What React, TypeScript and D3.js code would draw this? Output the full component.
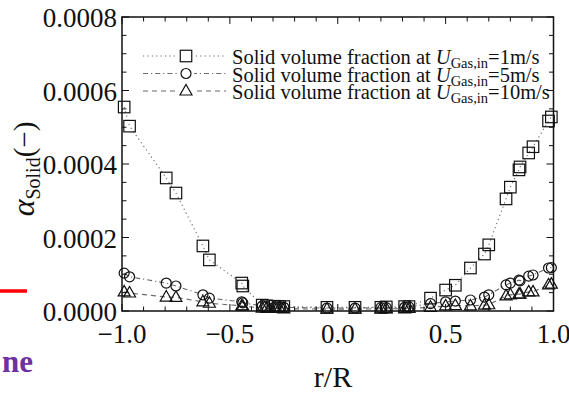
import React from "react";
import * as d3 from "d3";

const rPos = [-0.99, -0.965, -0.795, -0.75, -0.625, -0.595, -0.445, -0.44, -0.35, -0.33, -0.29, -0.27, -0.25, -0.05, 0.08, 0.2, 0.225, 0.31, 0.33, 0.43, 0.5, 0.545, 0.615, 0.68, 0.7, 0.78, 0.8, 0.84, 0.845, 0.885, 0.905, 0.977, 0.99];

const solid1 = [0.000555, 0.000503, 0.000362, 0.000321, 0.000177, 0.000139, 0.000076, 0.000068, 0.000016, 0.000014, 0.000013, 0.000012, 0.000012, 0.00001, 0.00001, 0.00001, 0.000011, 0.000012, 0.000012, 0.000035, 0.000057, 0.00007, 0.000117, 0.000155, 0.00018, 0.000305, 0.000337, 0.000384, 0.000392, 0.00043, 0.000447, 0.000517, 0.000528];

const solid5 = [0.000103, 0.000093, 0.000076, 0.000068, 0.000044, 0.000035, 0.000025, 0.000022, 0.000014, 0.000012, 0.000011, 0.00001, 0.00001, 0.000008, 0.000008, 0.000009, 0.000009, 0.00001, 0.000011, 0.00002, 0.000025, 0.000027, 0.00003, 0.000038, 0.000044, 0.000071, 0.000076, 0.000084, 0.000082, 0.000095, 0.000098, 0.000117, 0.000118];

const solid10 = [0.000052, 0.000049, 0.000038, 0.000037, 0.000025, 0.000021, 0.000014, 0.000013, 0.000008, 0.000007, 0.000007, 0.000007, 0.000006, 0.000005, 0.000005, 0.000006, 0.000006, 0.000006, 0.000007, 0.00001, 0.000014, 0.000015, 0.000014, 0.000016, 0.000017, 0.000041, 0.000044, 0.000046, 0.000046, 0.000052, 0.000052, 0.000071, 0.000073];

const xTickLabels = ["−1.0", "−0.5", "0.0", "0.5", "1.0"];
const xTickValues = [-1, -0.5, 0, 0.5, 1];
const yTickValues = [0, 0.0002, 0.0004, 0.0006, 0.0008];
const yTickLabels = ["0.0000", "0.0002", "0.0004", "0.0006", "0.0008"];
const legendSpeeds = ["1m/s", "5m/s", "10m/s"];

const FONT = "'Liberation Serif', 'DejaVu Serif', serif";
const LINE_COLOR = "#6a6a6a";

const x = d3.scaleLinear().domain([-1, 1]).range([122, 553.5]);
const y = d3.scaleLinear().domain([0, 0.0008]).range([311, 17]);

type Kind = "square" | "circle" | "triangle";

function Marker({ kind, cx, cy }: { kind: Kind; cx: number; cy: number }) {
  const common = { fill: "none", stroke: "#111", strokeWidth: 1.2 };
  if (kind === "square") {
    const s = 11.5;
    return <rect x={cx - s / 2} y={cy - s / 2} width={s} height={s} {...common} />;
  }
  if (kind === "circle") {
    return <circle cx={cx} cy={cy} r={5} {...common} />;
  }
  const w = 12;
  const h = 10.5;
  const p = `M${cx},${cy - h * 0.62} L${cx + w / 2},${cy + h * 0.38} L${cx - w / 2},${cy + h * 0.38} Z`;
  return <path d={p} {...common} />;
}

const seriesDefs: { values: number[]; kind: Kind; dash: string }[] = [
  { values: solid1, kind: "square", dash: "1.2,3.2" },
  { values: solid5, kind: "circle", dash: "5,3,1.2,3" },
  { values: solid10, kind: "triangle", dash: "5,4" },
];

export default function App() {
  const line = d3
    .line<[number, number]>()
    .x((d) => x(d[0]))
    .y((d) => y(d[1]));

  const xMinor = d3.range(-10, 11).map((i) => i / 10);
  const yMinor = d3.range(0, 17).map((i) => i * 0.00005);

  const legendY = [56, 73.5, 91];

  return (
    <svg
      width={569}
      height={394}
      style={{ position: "absolute", left: 0, top: 0, background: "#fff" }}
      fontFamily={FONT}
    >
      <rect x={0} y={0} width={569} height={394} fill="#fff" />
      {/* stray fragments from the source figure */}
      <line x1={0} x2={27} y1={291} y2={291} stroke="#ff0000" strokeWidth={3.5} />
      <text x={33} y={372} textAnchor="end" fontSize={31} fontWeight="bold" fill="#7030a0">
        ne
      </text>

      {/* series lines */}
      {seriesDefs.map((s, i) => (
        <path
          key={"l" + i}
          d={line(rPos.map((r, j) => [r, s.values[j]]) as [number, number][]) || ""}
          fill="none"
          stroke={LINE_COLOR}
          strokeWidth={1.1}
          strokeDasharray={s.dash}
        />
      ))}
      {/* markers */}
      {seriesDefs.map((s, i) => (
        <g key={"m" + i}>
          {rPos.map((r, j) => (
            <Marker key={j} kind={s.kind} cx={x(r)} cy={y(s.values[j])} />
          ))}
        </g>
      ))}

      {/* frame */}
      <rect x={122} y={17} width={431.5} height={294} fill="none" stroke="#111" strokeWidth={1.5} />
      {/* ticks */}
      {xMinor.map((v, i) => {
        const major = Math.abs((v * 10) % 5) < 1e-6;
        const L = major ? 7 : 4.5;
        return (
          <g key={"xt" + i} stroke="#111" strokeWidth={1}>
            <line x1={x(v)} x2={x(v)} y1={311} y2={311 - L} />
            <line x1={x(v)} x2={x(v)} y1={17} y2={17 + L} />
          </g>
        );
      })}
      {yMinor.map((v, i) => {
        const major = i % 4 === 0;
        const L = major ? 7 : 4.5;
        return (
          <g key={"yt" + i} stroke="#111" strokeWidth={1}>
            <line x1={122} x2={122 + L} y1={y(v)} y2={y(v)} />
            <line x1={553.5} x2={553.5 - L} y1={y(v)} y2={y(v)} />
          </g>
        );
      })}
      {/* tick labels */}
      {yTickValues.map((v, i) => (
        <text key={"yl" + i} x={117} y={y(v) + 10} textAnchor="end" fontSize={27} fill="#111">
          {yTickLabels[i]}
        </text>
      ))}
      {xTickValues.map((v, i) => (
        <text key={"xl" + i} x={x(v)} y={343} textAnchor="middle" fontSize={27} fill="#111">
          {xTickLabels[i]}
        </text>
      ))}
      {/* axis titles */}
      <text x={333} y={387} textAnchor="middle" fontSize={30} fill="#111">
        r/R
      </text>
      <text transform="translate(34,169) rotate(-90)" textAnchor="middle" fill="#111">
        <tspan fontSize={32} fontStyle="italic">α</tspan>
        <tspan fontSize={20} dy={6}>Solid</tspan>
        <tspan fontSize={29} dy={-6}>(−)</tspan>
      </text>

      {/* legend */}
      {seriesDefs.map((s, i) => (
        <g key={"lg" + i}>
          <line
            x1={143}
            x2={226}
            y1={legendY[i]}
            y2={legendY[i]}
            stroke={LINE_COLOR}
            strokeWidth={1.1}
            strokeDasharray={s.dash}
          />
          <rect x={178} y={legendY[i] - 7} width={16} height={14} fill="#fff" />
          <Marker kind={s.kind} cx={186} cy={legendY[i]} />
          <text x={232} y={legendY[i] + 8} fontSize={20.5} fill="#111">
            <tspan>Solid volume fraction at </tspan>
            <tspan fontStyle="italic">U</tspan>
            <tspan fontSize={14.5} dy={4}>Gas,in</tspan>
            <tspan dy={-4}>{"=" + legendSpeeds[i]}</tspan>
          </text>
        </g>
      ))}
    </svg>
  );
}
